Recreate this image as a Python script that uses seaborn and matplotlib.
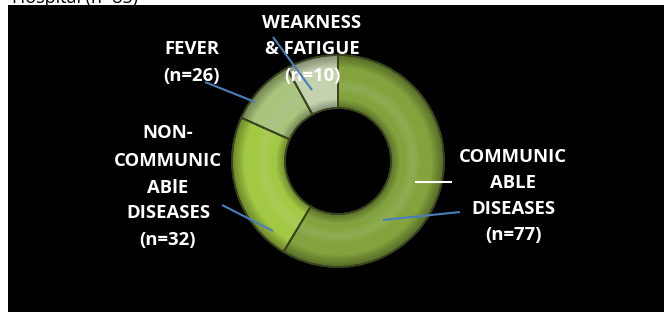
import matplotlib
matplotlib.use("Agg")
import matplotlib.pyplot as plt
import seaborn as sns
from matplotlib.patches import Rectangle

# ---- data ----
categories = ["COMMUNICABLE DISEASES", "NON-COMMUNICABLE DISEASES", "FEVER", "WEAKNESS & FATIGUE"]
counts = [77, 32, 26, 10]
# slice shares as drawn in the picture (percent of the ring)
slice_values = [58.6, 23.1, 10.3, 8.0]
label_lines = [
    ["COMMUNIC", "ABLE", "DISEASES", "(n=77)"],
    ["NON-", "COMMUNIC", "ABlE", "DISEASES", "(n=32)"],
    ["FEVER", "(n=26)"],
    ["WEAKNESS", "& FATIGUE", "(n=10)"],
]
title_text = "Hospital (n=85)"

slice_colors = ["#84a33e", "#a3c944", "#a9c47c", "#c4d2ae"]

sns.set_theme(style="white")
plt.rcParams["font.family"] = ["Open Sans", "DejaVu Sans"]

W, H = 664, 312
fig = plt.figure(figsize=(W / 100, H / 100), dpi=100)
fig.patch.set_facecolor("white")
ax = fig.add_axes([0, 0, 1, 1])

def py(y):
    return H - y

# black panel
ax.add_patch(Rectangle((8, 0), W - 8, H - 5, facecolor="black", edgecolor="none", zorder=0))

cx, cy, R = 338, py(161), 106
ring_w = 53
r_in = R - ring_w

common = dict(startangle=90, counterclock=False, center=(cx, cy), frame=True)
# base ring
ax.pie(slice_values, colors=slice_colors, radius=R,
       wedgeprops=dict(width=ring_w, edgecolor="#3a4520", linewidth=1.2, zorder=2), **common)

# smooth bevel shading built from nested translucent bands
steps = 10
for k in range(steps):
    f = (k + 1) / steps
    # darkening toward the outer rim
    ax.pie(slice_values, colors=["black"] * 4, radius=R,
           wedgeprops=dict(width=12 * f, alpha=0.035, linewidth=0, zorder=3), **common)
    # darkening toward the inner lip
    ax.pie(slice_values, colors=["black"] * 4, radius=r_in + 9 * f,
           wedgeprops=dict(width=9 * f, alpha=0.03, linewidth=0, zorder=3), **common)
    # soft highlight in the middle of the tube
    ax.pie(slice_values, colors=["white"] * 4, radius=r_in + 22 + 8 * f,
           wedgeprops=dict(width=16 * f, alpha=0.012, linewidth=0, zorder=3), **common)

# slice edges on top
ax.pie(slice_values, colors=["none"] * 4, radius=R,
       wedgeprops=dict(width=ring_w, edgecolor="#3a4520", linewidth=1.2, zorder=4), **common)

ax.set_xlim(0, W)
ax.set_ylim(0, H)
ax.set_aspect("equal")
ax.axis("off")

# labels
label_pos = [
    (513, [157, 183, 209, 235]),
    (168, [133, 161, 188, 213, 240]),
    (192, [49, 76]),
    (312, [23, 49, 76]),
]
for lines, (x, ys) in zip(label_lines, label_pos):
    for t, y in zip(lines, ys):
        ax.text(x, py(y), t, color="white", fontsize=13.3, fontweight="bold",
                ha="center", va="center", zorder=6)

# leader lines
blue = "#4a7ebb"
leaders = [
    ((273, 37), (312, 90), blue),
    ((205, 82), (255, 102), blue),
    ((222, 205), (273, 231), blue),
    ((460, 212), (383, 220), blue),
    ((415, 182), (452, 182), "white"),
]
for (x0, y0), (x1, y1), c in leaders:
    ax.plot([x0, x1], [py(y0), py(y1)], color=c, lw=1.5, zorder=7, solid_capstyle="butt")

# title, cut off at the top edge as in the reference
fig.text(12 / W, 1 - 3 / H, title_text, color="black", fontsize=13,
         ha="left", va="baseline")

fig.savefig("out.png", dpi=100, facecolor="white")
